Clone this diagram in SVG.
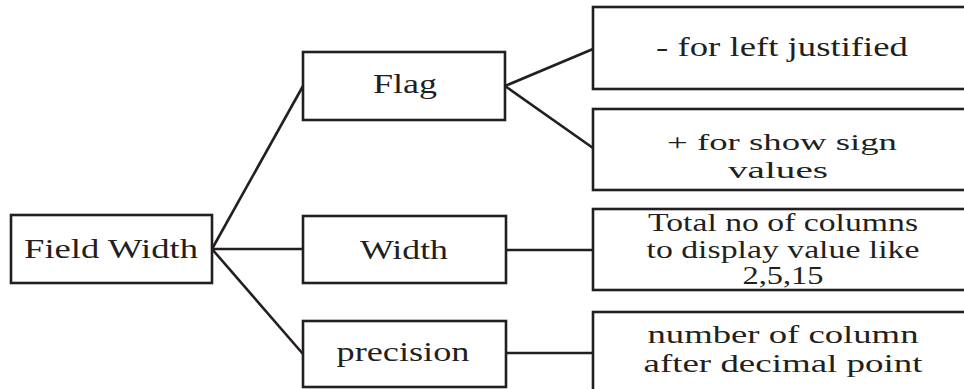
<svg xmlns="http://www.w3.org/2000/svg" width="964" height="389" viewBox="0 0 964 389">
<style>
.box{fill:#fff;stroke:#231f20;stroke-width:2.6}
.ln{stroke:#231f20;stroke-width:2.6;fill:none}
.t{font-family:"Liberation Serif","Times New Roman",serif;fill:#231f20;text-anchor:middle}
.a{font-size:27px}
.b{font-size:25px}
.c{font-size:24px}
</style>
<rect width="964" height="389" fill="#fff"/>
<g id="connectors">
<line class="ln" x1="212" y1="249" x2="303" y2="86"/>
<line class="ln" x1="212" y1="249" x2="303" y2="249"/>
<line class="ln" x1="212" y1="249" x2="303" y2="354"/>
<line class="ln" x1="505" y1="86" x2="593" y2="49"/>
<line class="ln" x1="505" y1="86" x2="593" y2="148"/>
<line class="ln" x1="506" y1="250" x2="593" y2="250"/>
<line class="ln" x1="506" y1="353" x2="593" y2="353"/>
</g>
<g id="field-width">
<rect class="box" x="11" y="215" width="201" height="68"/>
<text class="t a" x="111" y="258" textLength="174" lengthAdjust="spacingAndGlyphs">Field Width</text>
</g>
<g id="flag">
<rect class="box" x="303" y="52" width="202" height="68"/>
<text class="t a" x="405" y="93" textLength="64" lengthAdjust="spacingAndGlyphs">Flag</text>
</g>
<g id="width">
<rect class="box" x="303" y="216" width="203" height="67"/>
<text class="t a" x="404" y="259" textLength="88" lengthAdjust="spacingAndGlyphs">Width</text>
</g>
<g id="precision">
<rect class="box" x="303" y="321" width="203" height="66"/>
<text class="t a" x="403" y="361" textLength="133" lengthAdjust="spacingAndGlyphs">precision</text>
</g>
<g id="left-justified">
<rect class="box" x="593" y="7" width="390" height="82"/>
<text class="t a" x="782" y="56" textLength="252" lengthAdjust="spacingAndGlyphs">- for left justified</text>
</g>
<g id="show-sign">
<rect class="box" x="593" y="109" width="390" height="81"/>
<text class="t c" x="782" y="150" textLength="230" lengthAdjust="spacingAndGlyphs">+ for show sign</text>
<text class="t c" x="778" y="178" textLength="100" lengthAdjust="spacingAndGlyphs">values</text>
</g>
<g id="total-columns">
<rect class="box" x="593" y="209" width="390" height="81"/>
<text class="t b" x="783" y="231" textLength="270" lengthAdjust="spacingAndGlyphs">Total no of columns</text>
<text class="t b" x="783" y="258" textLength="273" lengthAdjust="spacingAndGlyphs">to display value like</text>
<text class="t b" x="783" y="284" textLength="81" lengthAdjust="spacingAndGlyphs">2,5,15</text>
</g>
<g id="decimal">
<rect class="box" x="593" y="312" width="390" height="90"/>
<text class="t b" x="783" y="343" textLength="271" lengthAdjust="spacingAndGlyphs">number of column</text>
<text class="t b" x="783" y="372" textLength="279" lengthAdjust="spacingAndGlyphs">after decimal point</text>
</g>
</svg>
